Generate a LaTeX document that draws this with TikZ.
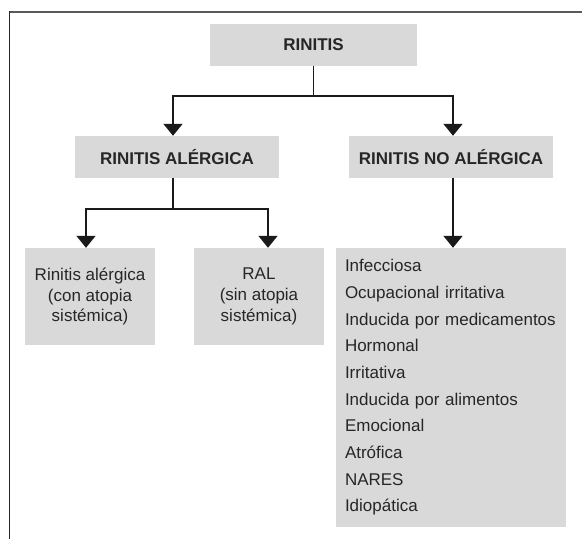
\documentclass[tikz,border=0pt]{standalone}
\usepackage{fontspec}
\setmainfont{Liberation Sans}
\usetikzlibrary{arrows.meta,calc}
\definecolor{boxgray}{HTML}{D9D9D9}
\definecolor{txt}{HTML}{262626}
\definecolor{ink}{HTML}{1A1A1A}
\begin{document}
\begin{tikzpicture}[x=1pt,y=-1pt,
  every node/.style={text=txt},
  hbox/.style={fill=boxgray,inner sep=0pt,font=\fontsize{17}{20.5}\selectfont\bfseries,align=center},
  sbox/.style={fill=boxgray,inner sep=0pt,font=\fontsize{17}{20.7}\selectfont,align=center},
  ln/.style={draw=ink,line width=1.6pt},
  arr/.style={ln,-{Triangle[width=19pt,length=12pt]}}]
\useasboundingbox (0,0) rectangle (582,539);
% frame (top and left)
\draw[line width=1.3pt,draw=black!65] (9.3,12) -- (582,12);
\draw[line width=1.3pt,draw=black!85] (9.3,11.4) -- (9.3,539);
% nodes
\node[hbox,minimum width=207pt,minimum height=42pt] (r) at (313.5,45) {RINITIS};
\node[hbox,minimum width=204pt,minimum height=42pt] (ra) at (177,157) {RINITIS ALÉRGICA};
\node[hbox,minimum width=204pt,minimum height=42pt] (rna) at (451,157) {RINITIS NO ALÉRGICA};
\node[sbox,minimum width=130pt,minimum height=97pt] (a1) at (90,296.5) {Rinitis alérgica\\(con atopia\\sistémica)};
\node[sbox,minimum width=130pt,minimum height=97pt] (a2) at (259,296.5) {RAL\\(sin atopia\\sistémica)};
\node[fill=boxgray,inner xsep=9pt,inner ysep=0pt,text width=212pt,minimum height=279pt,align=left,
      font=\fontsize{17}{26.67}\selectfont] (big) at (451,387.5)
 {Infecciosa\\Ocupacional irritativa\\Inducida por medicamentos\\Hormonal\\Irritativa\\Inducida por alimentos\\Emocional\\Atrófica\\NARES\\Idiopática};
% connectors
\coordinate (j1) at (r.south |- 0,96);
\draw[ln] (r.south) -- (j1);
\draw[arr] (j1) -| ([xshift=-4pt]ra.north);
\draw[arr] (j1) -| ([xshift=2pt]rna.north);
\coordinate (j2) at ([xshift=-4pt]ra.south |- 0,209);
\draw[ln] ([xshift=-4pt]ra.south) -- (j2);
\draw[arr] (j2) -| ([xshift=-4pt]a1.north);
\draw[arr] (j2) -| ([xshift=9pt]a2.north);
\draw[arr] ([xshift=2pt]rna.south) -- ([xshift=2pt]rna.south |- big.north);
\end{tikzpicture}
\end{document}
